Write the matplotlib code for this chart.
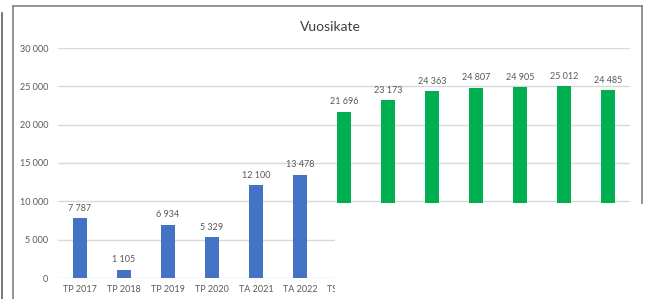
import numpy as np
import matplotlib
matplotlib.use('Agg')
import matplotlib.pyplot as plt
from matplotlib.lines import Line2D
from matplotlib.patches import Rectangle

plt.rcParams['font.family'] = ['Lato', 'DejaVu Sans']

# data
years = ['TP 2017', 'TP 2018', 'TP 2019', 'TP 2020', 'TA 2021', 'TA 2022',
         'TS 2023', 'TS 2024', 'TS 2025', 'TS 2026', 'TS 2027', 'TS 2028', 'TS 2029']
vuosikate = [7787, 1105, 6934, 5329, 12100, 13478,
             21696, 23173, 24363, 24807, 24905, 25012, 24485]
n_actual = 6  # first six blue, rest green

blue = '#4472C4'
green = '#00B050'
txt = '#595959'

fig = plt.figure(figsize=(6.45, 2.99), dpi=100)
ax = fig.add_axes([58/645, 21/299, 572/645, 230/299])

x = np.arange(len(years))
colors = [blue]*n_actual + [green]*(len(years)-n_actual)
ax.bar(x, vuosikate, width=0.32, color=colors, zorder=3)

for xi, v in zip(x, vuosikate):
    ax.text(xi, v + 700, f"{v:,}".replace(",", " "), ha='center', va='bottom',
            fontsize=6.5, color=txt)

ax.set_xlim(-0.5, len(years) - 0.5)
ax.set_ylim(0, 30000)
ax.set_yticks(np.arange(0, 30001, 5000))
ax.set_yticklabels([f"{t:,}".replace(",", " ") for t in range(0, 30001, 5000)])
ax.set_xticks(x)
ax.set_xticklabels(years)
ax.tick_params(axis='both', length=0, labelsize=6.5, labelcolor=txt)
ax.tick_params(axis='y', pad=7)
ax.tick_params(axis='x', pad=5)
ax.grid(axis='y', color='#D9D9D9', linewidth=1, zorder=0)
for s in ax.spines.values():
    s.set_visible(False)

fig.text(330/645, 1 - 27/299, 'Vuosikate', ha='center', va='center',
         fontsize=10, color='#404040')

# white box pasted over the lower right part
fig.patches.append(Rectangle((335/645, 0), 1, (299-203)/299, transform=fig.transFigure,
                             facecolor='white', edgecolor='none', zorder=10))

# frame lines of the screenshot
def fline(x0, y0, x1, y1, c='#808080', lw=1.2):
    fig.lines.append(Line2D([x0/645, x1/645], [1 - y0/299, 1 - y1/299],
                            transform=fig.transFigure, color=c, linewidth=lw, zorder=11))

fline(13, 6, 642, 6)
fline(13, 6, 13, 299)
fline(642, 6, 642, 203)
fline(1.5, 13, 1.5, 299, c='#606060')

plt.savefig('out.png', dpi=100)
